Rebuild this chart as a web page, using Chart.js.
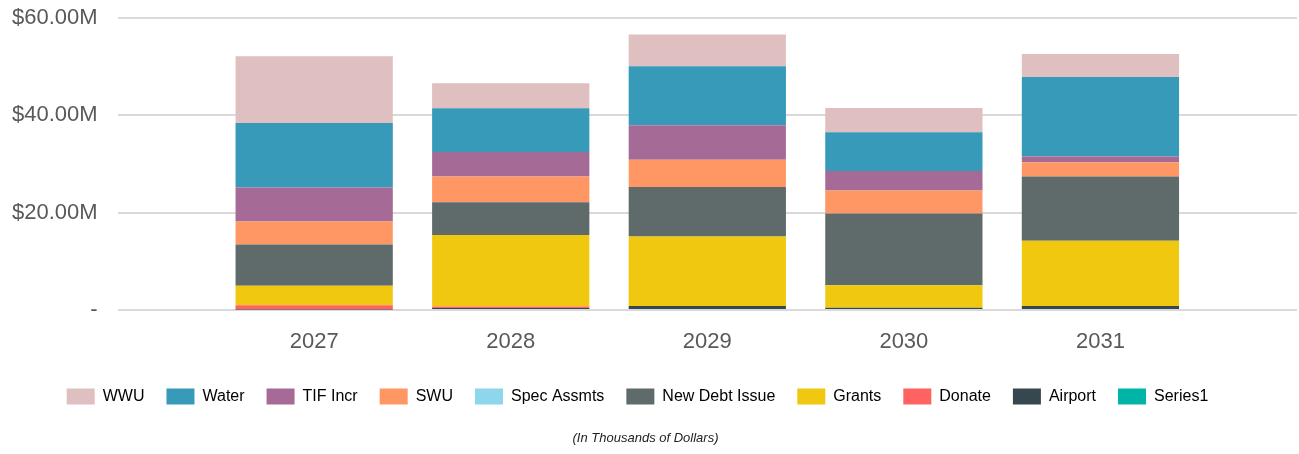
<!DOCTYPE html>
<html>
<head>
<meta charset="utf-8">
<script src="https://cdn.jsdelivr.net/npm/chart.js@4"></script>
<style>
  body { margin: 0; background: #fff; }
  #wrap { width: 1299px; height: 454px; }
</style>
</head>
<body>
<div id="wrap"><canvas id="grafico" width="1299" height="454"></canvas></div>
<script>
// anos e valores em milhoes de dolares
const years = ['2027', '2028', '2029', '2030', '2031'];
const wwu = [13.7, 5.1, 6.5, 5.0, 4.7];
const water = [13.2, 9.0, 12.1, 7.95, 16.3];
const tifIncr = [7.0, 5.0, 7.1, 4.0, 1.2];
const swu = [4.7, 5.3, 5.55, 4.7, 2.9];
const specAssmts = [0, 0, 0, 0, 0];
const newDebt = [8.5, 6.7, 10.15, 14.7, 13.2];
const grants = [3.95, 14.7, 14.3, 4.65, 13.4];
const donate = [0.9, 0.3, 0, 0, 0];
const airport = [0.1, 0.4, 0.8, 0.45, 0.8];
const series1 = [0, 0, 0, 0, 0];
const yTicks = [0, 20, 40, 60];

// uma categoria vazia em cada ponta, como no original
const labels = [''].concat(years, ['']);
function pad(arr) { return [null].concat(arr, [null]); }

// ordem da legenda (de cima para baixo na pilha)
const series = [
  { label: 'WWU', data: wwu, color: '#dfbfc0' },
  { label: 'Water', data: water, color: '#369ab8' },
  { label: 'TIF Incr', data: tifIncr, color: '#a66a96' },
  { label: 'SWU', data: swu, color: '#ff9765' },
  { label: 'Spec Assmts', data: specAssmts, color: '#8dd6ec' },
  { label: 'New Debt Issue', data: newDebt, color: '#5f6a6b' },
  { label: 'Grants', data: grants, color: '#f0c80f' },
  { label: 'Donate', data: donate, color: '#ff6361' },
  { label: 'Airport', data: airport, color: '#37474f' },
  { label: 'Series1', data: series1, color: '#00b5a7' }
];

const n = series.length;
// a pilha comeca pela ultima serie da legenda
const datasets = series.slice().reverse().map(function(s) {
  return {
    label: s.label,
    data: pad(s.data),
    backgroundColor: s.color,
    borderWidth: 0,
    stack: 'a'
  };
});

// desloca a legenda um pouco para a esquerda, como no original
const moveLegend = {
  id: 'moveLegend',
  afterLayout: function(chart) {
    if (chart.legend) {
      chart.legend.left -= 8;
      chart.legend.right -= 8;
    }
  }
};

const ctx = document.getElementById('grafico').getContext('2d');
new Chart(ctx, {
  type: 'bar',
  data: { labels: labels, datasets: datasets },
  plugins: [moveLegend],
  options: {
    responsive: false,
    animation: false,
    layout: { padding: { left: -8, right: 0, top: 0, bottom: 4 } },
    datasets: { bar: { categoryPercentage: 0.8, barPercentage: 1.0 } },
    scales: {
      x: {
        stacked: true,
        offset: false,
        grid: { display: false, drawTicks: false },
        border: { display: false },
        afterFit: function(axis) {
          axis.paddingLeft = 0;
          axis.paddingRight = 2;
          axis.height = axis.height - 8;
        },
        ticks: {
          autoSkip: false,
          maxRotation: 0,
          padding: 19,
          color: '#595959',
          font: { family: 'Liberation Sans', size: 22 }
        }
      },
      y: {
        stacked: true,
        min: 0,
        max: 60,
        afterBuildTicks: function(axis) {
          axis.ticks = yTicks.map(function(v) { return { value: v }; });
        },
        afterFit: function(axis) {
          axis.paddingTop = 17.5;
          axis.paddingBottom = 0;
        },
        grid: { color: '#d9d9d9', lineWidth: 2, drawTicks: false },
        border: { display: false },
        ticks: {
          padding: 20,
          color: '#595959',
          font: { family: 'Liberation Sans', size: 22 },
          callback: function(v) {
            return v === 0 ? '-' : '$' + v.toFixed(2) + 'M';
          }
        }
      }
    },
    plugins: {
      legend: {
        position: 'bottom',
        labels: {
          boxWidth: 28,
          boxHeight: 16,
          padding: 22,
          color: '#222',
          font: { family: 'Liberation Sans', size: 16 },
          generateLabels: function(chart) {
            return series.map(function(s, i) {
              return {
                text: s.label,
                fillStyle: s.color,
                strokeStyle: 'rgba(255,255,255,0)',
                lineWidth: 0,
                hidden: false,
                datasetIndex: n - 1 - i
              };
            });
          }
        }
      },
      subtitle: {
        display: true,
        position: 'bottom',
        text: '(In Thousands of Dollars)',
        color: '#222',
        font: { family: 'Liberation Sans', size: 13, style: 'italic', weight: 'normal' },
        padding: { top: 16, bottom: 4 }
      },
      tooltip: { enabled: false }
    }
  }
});
</script>
</body>
</html>
